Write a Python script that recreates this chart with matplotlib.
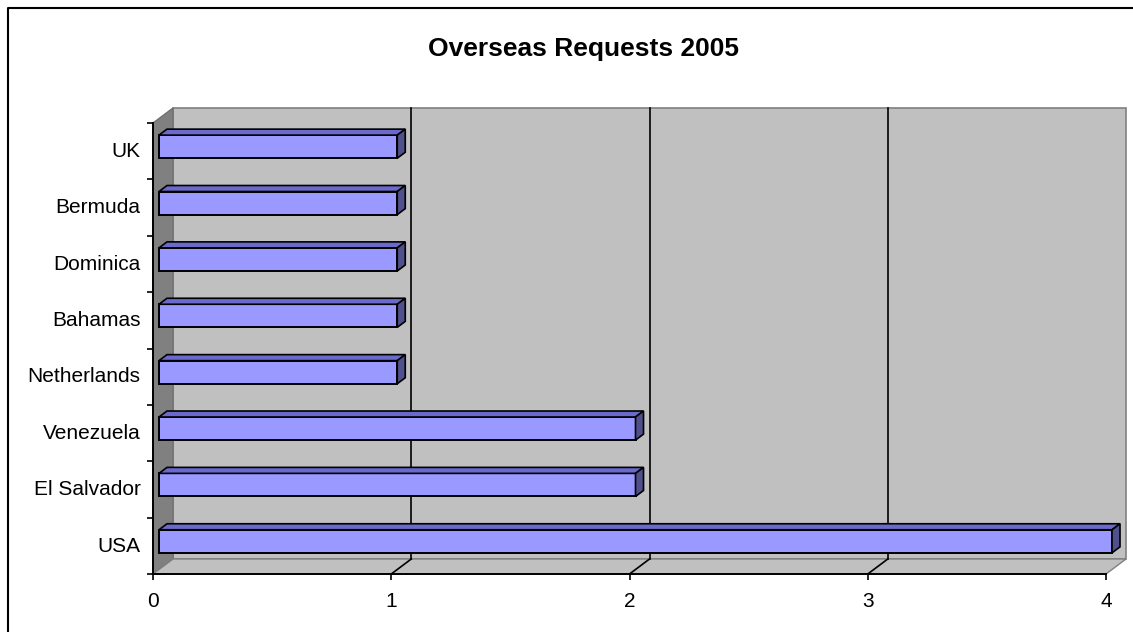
import matplotlib
matplotlib.use("Agg")
import matplotlib.pyplot as plt
from matplotlib.patches import Rectangle, Polygon
from matplotlib.lines import Line2D
import numpy as np

plt.rcParams["font.family"] = ["Liberation Sans", "DejaVu Sans"]

# --- data ---
categories = ["USA", "El Salvador", "Venezuela", "Netherlands",
              "Bahamas", "Dominica", "Bermuda", "UK"]
requests = [4, 2, 2, 1, 1, 1, 1, 1]
x_ticks = [0, 1, 2, 3, 4]

# 3d look: how far the back wall sits from the front plane (data units)
DX = 0.084
DY = 0.266
BAR_FRONT = 0.3
BAR_BACK = 0.7
BAR_H = 0.41

W, H = 1133, 632
fig = plt.figure(figsize=(W / 100, H / 100), dpi=100)
ax = fig.add_axes([153 / W, 58 / H, 953 / W, 451 / H])
xmax = x_ticks[-1]
n = len(categories)
ax.set_xlim(0, xmax)
ax.set_ylim(0, n)
ax.patch.set_visible(False)

# --- walls ---
ax.add_patch(Rectangle((DX, DY), xmax, n, fc="#C0C0C0", ec="#808080",
                       lw=1.2, clip_on=False, zorder=0))
ax.add_patch(Polygon([(0, 0), (DX, DY), (DX, n + DY), (0, n)],
                     fc="#808080", ec="#707070", lw=1, clip_on=False, zorder=0.5))
ax.add_patch(Polygon([(0, 0), (DX, DY), (xmax + DX, DY), (xmax, 0)],
                     fc="#C0C0C0", ec="#808080", lw=1, clip_on=False, zorder=0.5))

# gridlines on back wall + floor
for v in x_ticks[1:-1]:
    ax.plot([v + DX, v + DX], [DY, n + DY], color="black", lw=1.2,
            clip_on=False, zorder=1)
    ax.plot([v, v + DX], [0, DY], color="black", lw=1.2,
            clip_on=False, zorder=1)

# --- bars ---
y_pos = np.arange(n) + 0.5
y_front = y_pos + BAR_FRONT * DY
x_left = BAR_FRONT * DX
ddx = (BAR_BACK - BAR_FRONT) * DX
ddy = (BAR_BACK - BAR_FRONT) * DY

bars = ax.barh(y_front, requests, height=BAR_H, left=x_left, color="#9999FF",
               edgecolor="black", lw=1.4, zorder=3)
for b in bars:
    b.set_clip_on(False)
for yc, val in zip(y_front, requests):
    yt = yc + BAR_H / 2
    yb = yc - BAR_H / 2
    xr = x_left + val
    ax.add_patch(Polygon([(x_left, yt), (xr, yt), (xr + ddx, yt + ddy),
                          (x_left + ddx, yt + ddy)],
                         fc="#6A6ACC", ec="black", lw=1.2, clip_on=False, zorder=3))
    ax.add_patch(Polygon([(xr, yb), (xr, yt), (xr + ddx, yt + ddy),
                          (xr + ddx, yb + ddy)],
                         fc="#50508C", ec="black", lw=1.2, clip_on=False, zorder=3))

# --- axes ---
for s in ["top", "right"]:
    ax.spines[s].set_visible(False)
for s in ["left", "bottom"]:
    ax.spines[s].set_color("black")
    ax.spines[s].set_linewidth(1.4)
    ax.spines[s].set_zorder(2)

ax.set_xticks(x_ticks)
ax.set_xticklabels([str(v) for v in x_ticks])
ax.tick_params(axis="x", direction="out", length=4, width=1.2,
               labelsize=15, pad=9)

ax.set_yticks(np.arange(n + 1))
ax.set_yticklabels([])
ax.set_yticks(y_pos + 0.03, minor=True)
ax.set_yticklabels(categories, minor=True)
ax.tick_params(axis="y", which="major", direction="out", length=4, width=1.2)
ax.tick_params(axis="y", which="minor", length=0, labelsize=15, pad=9)

fig.text(583 / W, 1 - 49 / H, "Overseas Requests 2005", ha="center",
         va="center", fontsize=19, fontweight="bold")

# chart border (only top and left are inside the picture)
fig.add_artist(Line2D([7.5 / W, 7.5 / W, 1.0], [0.0, 1 - 7.5 / H, 1 - 7.5 / H],
                      transform=fig.transFigure, color="black", lw=1.5))

fig.savefig("out.png", dpi=100, facecolor="white")
plt.close(fig)
